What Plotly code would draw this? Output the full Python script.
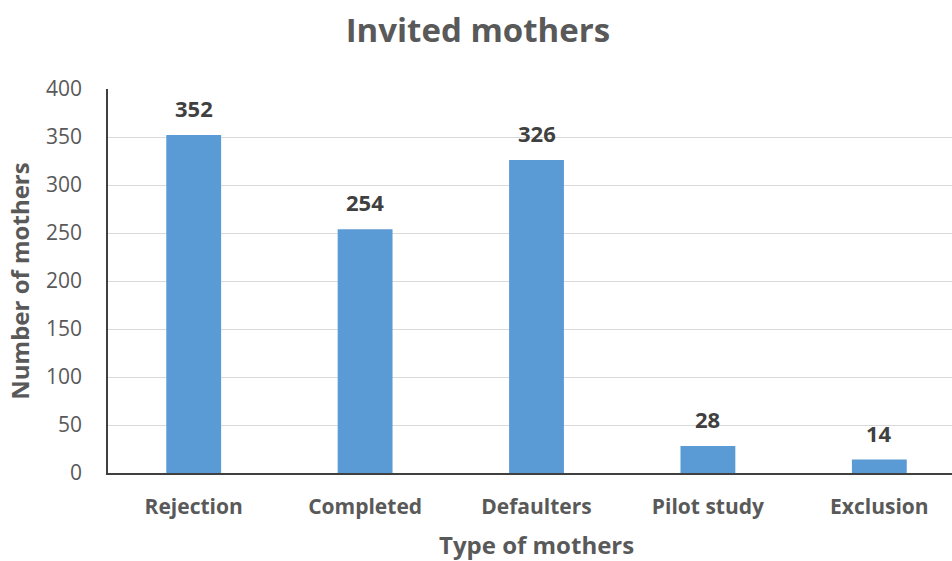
import plotly.graph_objects as go

categories = ["Rejection", "Completed", "Defaulters", "Pilot study", "Exclusion"]
values = [352, 254, 326, 28, 14]
y_ticks = [0, 50, 100, 150, 200, 250, 300, 350, 400]

FONT = "Open Sans"
GRAY = "#595959"

fig = go.Figure()
fig.add_trace(go.Bar(
    x=categories, y=values, width=0.32,
    marker=dict(color="#5B9BD5", line=dict(width=0)),
    showlegend=False, hoverinfo="skip",
))
for c, v in zip(categories, values):
    fig.add_annotation(x=c, y=v, text=f"<b>{v}</b>", showarrow=False,
                       yanchor="bottom", yshift=10,
                       font=dict(family=FONT, size=22, color="#404040"))

# x-axis title centred on the full category band (the chart is cropped on the right)
fig.add_annotation(xref="x", x=2, yref="paper", y=-0.186, yanchor="middle",
                   text="<b>Type of mothers</b>", showarrow=False,
                   font=dict(family=FONT, size=24, color=GRAY))

fig.update_layout(
    width=952, height=561,
    margin=dict(l=108, r=0, t=89, b=88),
    paper_bgcolor="white", plot_bgcolor="white",
    title=dict(text="<b>Invited mothers</b>", x=0.502, xanchor="center",
               y=0.945, yanchor="middle",
               font=dict(family=FONT, size=33, color=GRAY)),
    font=dict(family=FONT, color=GRAY),
    xaxis=dict(
        range=[-0.5, 4.424], showline=True, linecolor="#404040", linewidth=1.5,
        showgrid=False, ticks="", ticklabelstandoff=14,
        tickfont=dict(family=FONT, size=21, color=GRAY, weight="bold"),
    ),
    yaxis=dict(
        range=[0, 400], tickvals=y_ticks, showline=True, linecolor="#404040",
        linewidth=1.5, showgrid=True, gridcolor="#D9D9D9", gridwidth=1,
        zeroline=False, ticks="", ticklabelstandoff=20,
        tickfont=dict(family=FONT, size=21, color=GRAY),
        title=dict(text="<b>Number of mothers</b>", standoff=10,
                   font=dict(family=FONT, size=24, color=GRAY)),
    ),
)

fig.write_html("out.html")
